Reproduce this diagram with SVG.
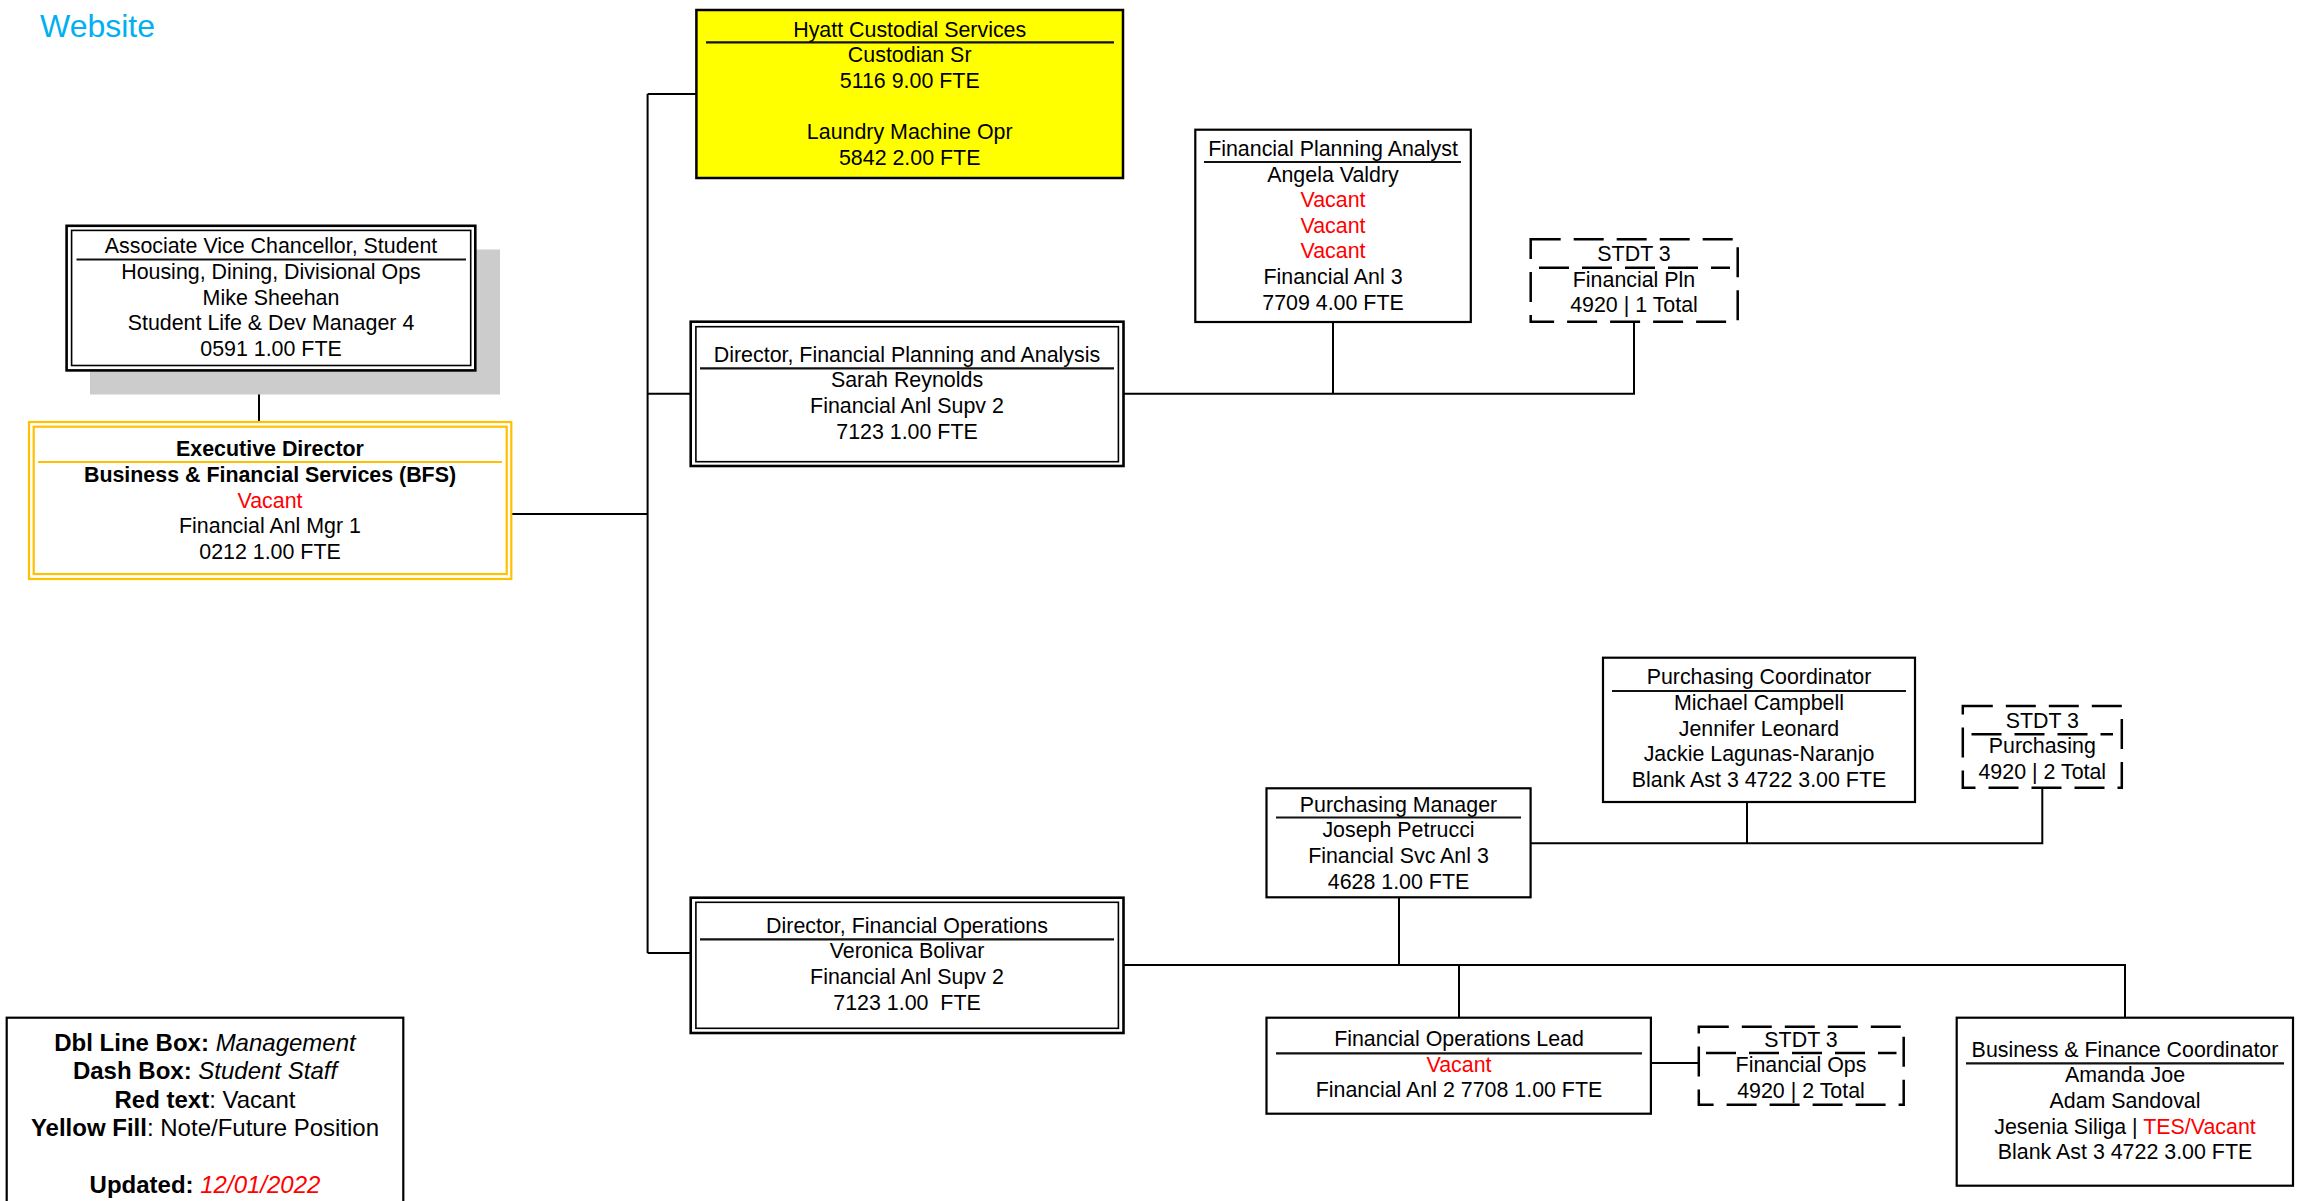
<svg xmlns="http://www.w3.org/2000/svg" width="2299" height="1201" viewBox="0 0 2299 1201">
<style>
text{font-family:"Liberation Sans",Arial,sans-serif;font-size:21.4px;fill:#000;text-anchor:middle}
.b{font-weight:bold}
.r{fill:#FF0000}
.box{fill:#fff;stroke:#000;stroke-width:2.2}
.o{fill:#fff;stroke:#000;stroke-width:2.6}
.i{fill:none;stroke:#000;stroke-width:1.6}
.y{fill:#fff;stroke:#FFC000;stroke-width:2.2}
.yi{fill:none;stroke:#FFC000;stroke-width:2.2}
.dash{fill:#fff;stroke:#000;stroke-width:2.5;stroke-dasharray:30 13}
.dl{stroke:#000;stroke-width:2.5;stroke-dasharray:30 13;fill:none}
.sep{stroke:#111;stroke-width:2.2;fill:none}
.con{stroke:#000;stroke-width:2;fill:none}
.lg{font-size:24px}
</style>
<text x="40" y="37" style="font-size:32px;fill:#00B0F0;text-anchor:start">Website</text>
<g id="connectors">
<path class="con" d="M259 370.4V422"/>
<path class="con" d="M511 514H647.6"/>
<path class="con" d="M647.6 94V953"/>
<path class="con" d="M647.6 94H696.4"/>
<path class="con" d="M647.6 393.7H690.7"/>
<path class="con" d="M647.6 953H690.7"/>
<path class="con" d="M1123.5 393.7H1634V321.7"/>
<path class="con" d="M1333 322V393.7"/>
<path class="con" d="M1123.5 965H2125V1017.7"/>
<path class="con" d="M1399 897.3V965"/>
<path class="con" d="M1459 965V1017.7"/>
<path class="con" d="M1530.6 843.3H2042.3V787.7"/>
<path class="con" d="M1747 802V843.3"/>
<path class="con" d="M1650.9 1063H1698.8"/>
</g>
<g id="avc">
<rect x="90" y="249.5" width="410" height="145" fill="#CCCCCC"/>
<rect class="o" x="66.6" y="225.8" width="408.7" height="144.6"/>
<rect class="i" x="71.6" y="230.4" width="399.1" height="135.1"/>
<path class="sep" d="M76.5 259.5H466"/>
<text x="271" y="253.3">Associate Vice Chancellor, Student</text>
<text x="271" y="278.9">Housing, Dining, Divisional Ops</text>
<text x="271" y="304.5">Mike Sheehan</text>
<text x="271" y="330.1">Student Life &amp; Dev Manager 4</text>
<text x="271" y="355.7">0591 1.00 FTE</text>
</g>
<g id="exec">
<rect class="y" x="29" y="422" width="482.3" height="157"/>
<rect class="yi" x="33.7" y="426.7" width="473" height="147.3"/>
<path d="M38 462H502" stroke="#FFC000" stroke-width="2.2"/>
<text class="b" x="270" y="456.2">Executive Director</text>
<text class="b" x="270" y="482">Business &amp; Financial Services (BFS)</text>
<text class="r" x="270" y="507.5">Vacant</text>
<text x="270" y="533">Financial Anl Mgr 1</text>
<text x="270" y="558.6">0212 1.00 FTE</text>
</g>
<g id="hyatt">
<rect x="696.4" y="10" width="426.6" height="168" fill="#FFFF00" stroke="#000" stroke-width="2.5"/>
<path class="sep" d="M706 42.3H1114"/>
<text x="909.7" y="36.7">Hyatt Custodial Services</text>
<text x="909.7" y="62.3">Custodian Sr</text>
<text x="909.7" y="87.9">5116 9.00 FTE</text>
<text x="909.7" y="139.1">Laundry Machine Opr</text>
<text x="909.7" y="164.7">5842 2.00 FTE</text>
</g>
<g id="dir-fpa">
<rect class="o" x="690.7" y="321.7" width="432.8" height="144.3"/>
<rect class="i" x="695.9" y="326.7" width="422.5" height="135"/>
<path class="sep" d="M700 368.3H1114"/>
<text x="907" y="361.7">Director, Financial Planning and Analysis</text>
<text x="907" y="387.3">Sarah Reynolds</text>
<text x="907" y="412.9">Financial Anl Supv 2</text>
<text x="907" y="438.5">7123 1.00 FTE</text>
</g>
<g id="fpa-analyst">
<rect class="box" x="1195.3" y="129.7" width="275.5" height="192.3"/>
<path class="sep" d="M1204 162H1461"/>
<text x="1333" y="156">Financial Planning Analyst</text>
<text x="1333" y="181.6">Angela Valdry</text>
<text class="r" x="1333" y="207.2">Vacant</text>
<text class="r" x="1333" y="232.8">Vacant</text>
<text class="r" x="1333" y="258.4">Vacant</text>
<text x="1333" y="284">Financial Anl 3</text>
<text x="1333" y="309.6">7709 4.00 FTE</text>
</g>
<g id="stdt-fp">
<rect class="dash" x="1530.7" y="239.3" width="207" height="82.4"/>
<path class="dl" d="M1539 267.7H1730"/>
<text x="1634" y="261">STDT 3</text>
<text x="1634" y="286.6">Financial Pln</text>
<text x="1634" y="312.2">4920 | 1 Total</text>
</g>
<g id="purch-coord">
<rect class="box" x="1603" y="657.7" width="312" height="144.3"/>
<path class="sep" d="M1612 691H1906"/>
<text x="1759" y="684.3">Purchasing Coordinator</text>
<text x="1759" y="709.9">Michael Campbell</text>
<text x="1759" y="735.5">Jennifer Leonard</text>
<text x="1759" y="761.1">Jackie Lagunas-Naranjo</text>
<text x="1759" y="786.7">Blank Ast 3 4722 3.00 FTE</text>
</g>
<g id="stdt-purch">
<rect class="dash" x="1962.8" y="706" width="159" height="81.7"/>
<path class="dl" d="M1971.5 734.3H2113"/>
<text x="2042.3" y="727.7">STDT 3</text>
<text x="2042.3" y="753.3">Purchasing</text>
<text x="2042.3" y="778.9">4920 | 2 Total</text>
</g>
<g id="purch-mgr">
<rect class="box" x="1266.5" y="788.3" width="264.1" height="109"/>
<path class="sep" d="M1276 817.5H1521"/>
<text x="1398.5" y="811.7">Purchasing Manager</text>
<text x="1398.5" y="837.3">Joseph Petrucci</text>
<text x="1398.5" y="862.9">Financial Svc Anl 3</text>
<text x="1398.5" y="888.5">4628 1.00 FTE</text>
</g>
<g id="dir-fo">
<rect class="o" x="690.7" y="897.7" width="432.8" height="135.3"/>
<rect class="i" x="695.9" y="902.3" width="422.5" height="126"/>
<path class="sep" d="M700 939.3H1114"/>
<text x="907" y="932.7">Director, Financial Operations</text>
<text x="907" y="958.3">Veronica Bolivar</text>
<text x="907" y="983.9">Financial Anl Supv 2</text>
<text x="907" y="1009.5" style="white-space:pre">7123 1.00  FTE</text>
</g>
<g id="fo-lead">
<rect class="box" x="1266.5" y="1017.7" width="384.4" height="96"/>
<path class="sep" d="M1276 1053.3H1642"/>
<text x="1459" y="1046">Financial Operations Lead</text>
<text class="r" x="1459" y="1071.6">Vacant</text>
<text x="1459" y="1097.2">Financial Anl 2 7708 1.00 FTE</text>
</g>
<g id="stdt-fo">
<rect class="dash" x="1698.8" y="1026.7" width="204.9" height="78"/>
<path class="dl" d="M1706 1053H1896.5"/>
<text x="1801" y="1046.7">STDT 3</text>
<text x="1801" y="1072.3">Financial Ops</text>
<text x="1801" y="1097.9">4920 | 2 Total</text>
</g>
<g id="bfc">
<rect class="box" x="1956.7" y="1017.7" width="336.3" height="168"/>
<path class="sep" d="M1966 1063.3H2284"/>
<text x="2125" y="1056.7">Business &amp; Finance Coordinator</text>
<text x="2125" y="1082.3">Amanda Joe</text>
<text x="2125" y="1107.9">Adam Sandoval</text>
<text x="2125" y="1133.5">Jesenia Siliga | <tspan class="r">TES/Vacant</tspan></text>
<text x="2125" y="1159.1">Blank Ast 3 4722 3.00 FTE</text>
</g>
<g id="legend">
<rect class="box" x="6.7" y="1017.7" width="396.6" height="200"/>
<text class="lg" x="205" y="1051"><tspan class="b">Dbl Line Box:</tspan> <tspan font-style="italic">Management</tspan></text>
<text class="lg" x="205" y="1079.3"><tspan class="b">Dash Box:</tspan> <tspan font-style="italic">Student Staff</tspan></text>
<text class="lg" x="205" y="1107.7"><tspan class="b">Red text</tspan>: Vacant</text>
<text class="lg" x="205" y="1136"><tspan class="b">Yellow Fill</tspan>: Note/Future Position</text>
<text class="lg" x="205" y="1193.3"><tspan class="b">Updated:</tspan> <tspan class="r" font-style="italic">12/01/2022</tspan></text>
</g>
</svg>
